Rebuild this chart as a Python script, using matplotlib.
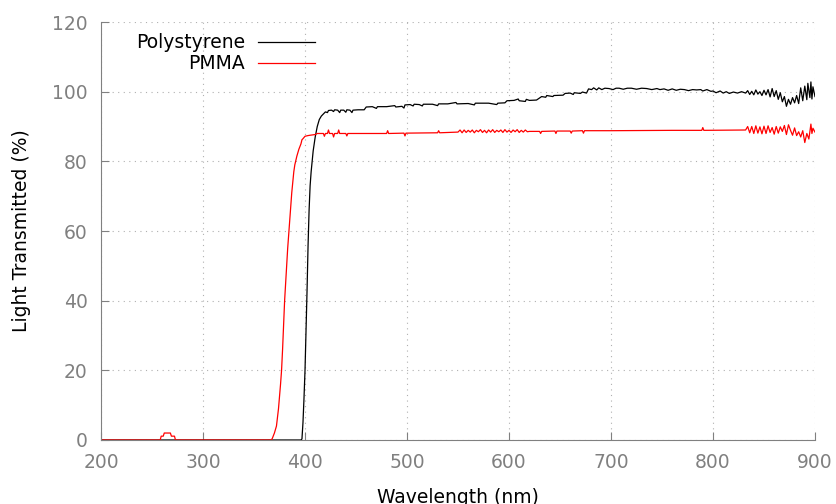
import matplotlib
matplotlib.use("Agg")
import matplotlib.pyplot as plt

# Polystyrene transmission (wavelength nm, % transmitted)
psWave = [200, 390, 396, 397, 398, 399, 400, 401, 402, 403, 404, 405, 406, 407, 408, 409, 410,
          411, 412, 413, 414, 416, 418, 420, 422, 423, 426, 428, 429, 432, 434, 435, 438, 440,
          441, 444, 446, 447, 452, 458, 460, 466, 470, 471, 480, 488, 489, 495, 497, 498, 503,
          506, 507, 512, 515, 516, 525, 530, 531, 540, 548, 549, 560, 566, 567, 580, 588, 589,
          596, 598, 605, 609, 610, 616, 617, 620, 627, 632, 636, 637, 643, 644, 653, 655, 660,
          663, 664, 670, 672, 676, 678, 681, 683, 686, 688, 691, 694, 698, 702, 705, 708, 712,
          716, 720, 725, 730, 735, 740, 745, 748, 752, 756, 760, 764, 768, 772, 776, 780, 784,
          788, 790, 794, 798, 800, 803, 807, 810, 813, 816, 820, 824, 828, 832, 834, 836, 838,
          840, 842, 844, 846, 848, 850, 852, 854, 856, 858, 860, 862, 864, 866, 868, 870, 872,
          874, 876, 878, 880, 882, 884, 886, 888, 890, 892, 893, 895, 896, 897, 898, 900]
psTrans = [0, 0, 0, 0.3, 5, 12, 20, 31, 43, 56, 66, 73, 77, 80, 83, 85, 87,
           88.5, 90, 91, 92, 93, 93.6, 94.2, 94.0, 94.6, 94.7, 94.3, 94.8, 94.7, 94.0, 94.7, 94.7, 94.1,
           94.8, 94.7, 94.0, 94.7, 94.8, 94.8, 95.6, 95.7, 95.2, 95.7, 95.7, 96.0, 95.6, 95.8, 95.3, 96.2, 96.3,
           95.9, 96.4, 96.3, 95.9, 96.4, 96.4, 96.0, 96.5, 96.5, 96.9, 96.5, 96.6, 96.2, 96.7, 96.7, 96.3, 96.7,
           96.8, 97.4, 97.5, 97.9, 97.4, 97.2, 97.8, 97.5, 97.6, 98.6, 98.4, 98.9, 98.6, 98.9, 99.0, 99.5, 99.6,
           99.2, 99.7, 99.5, 99.9, 99.6, 100.8, 100.6, 101.1, 100.5, 101.1, 100.6, 101.0, 100.9, 100.6, 101.0, 101.0, 100.7,
           101.0, 101.0, 100.7, 101.0, 100.9, 100.6, 100.9, 100.6, 100.8, 100.4, 100.8, 100.4, 100.7, 100.6, 100.3, 100.6, 100.5,
           100.6, 100.2, 100.6, 100.1, 100.2, 99.7, 100.2, 99.6, 100.0, 99.5, 99.9, 99.6, 100.0, 99.6, 100.3, 99.2, 100.1,
           99.1, 100.5, 99.3, 100.0, 98.9, 100.4, 99.1, 100.6, 98.5, 100.9, 98.6, 100.3, 97.8, 99.7, 97.1, 98.6, 95.8,
           97.8, 96.4, 98.3, 96.8, 98.9, 96.6, 101.1, 97.4, 101.6, 97.7, 102.4, 98.3, 102.8, 97.9, 101.4, 98.6]

# PMMA transmission
pmmaWave = [200, 258, 259, 261, 262, 268, 269, 272, 273, 367, 368, 370, 372, 374, 376, 377, 378,
            379, 380, 381, 382, 383, 384, 385, 386, 387, 388, 389, 390, 392, 394, 396, 397, 398,
            400, 403, 405, 410, 412, 418, 419, 420, 422, 423, 424, 427, 428, 429, 432, 433, 434,
            440, 441, 442, 480, 481, 482, 497, 498, 499, 530, 531, 532, 550, 552, 554, 556, 558,
            560, 562, 564, 566, 568, 570, 572, 574, 576, 578, 580, 582, 584, 586, 588, 590, 592,
            594, 596, 598, 600, 602, 604, 606, 608, 610, 612, 614, 616, 618, 620, 630, 631, 632,
            645, 646, 647, 660, 661, 662, 672, 673, 674, 700, 760, 789, 790, 791, 832, 834, 836,
            838, 840, 842, 844, 846, 848, 850, 852, 854, 856, 858, 860, 862, 864, 866, 868, 870,
            872, 874, 876, 878, 880, 882, 884, 886, 888, 890, 892, 894, 896, 897, 898, 900]
pmmaTrans = [0, 0, 1.1, 1.1, 2, 2, 1.1, 1.1, 0, 0, 0.5, 2, 4, 9, 16, 20, 26,
             33, 40, 45, 50, 55, 59, 63, 67, 71, 74, 77, 79, 81.5, 83.5, 85, 86.2, 86.5,
             87.2, 87.4, 87.5, 87.7, 88.0, 88.0, 87.2, 88.0, 88.0, 89.0, 88.0, 88.0, 87.0, 88.0, 88.0, 89.0, 88.0,
             88.0, 87.3, 88.0, 88.0, 88.8, 88.0, 88.1, 87.3, 88.1, 88.2, 88.8, 88.2, 88.4, 89.0, 88.2, 89.0, 88.3,
             88.9, 88.4, 89.0, 88.2, 88.9, 88.5, 89.1, 88.3, 88.9, 88.2, 89.0, 88.4, 89.1, 88.3, 88.9, 88.5, 89.0,
             88.3, 89.1, 88.4, 88.9, 88.3, 89.0, 88.5, 89.1, 88.3, 88.9, 88.4, 89.0, 88.5, 88.6, 88.6, 88.0, 88.6,
             88.7, 88.0, 88.7, 88.7, 88.1, 88.7, 88.8, 88.1, 88.8, 88.8, 88.9, 88.9, 89.7, 88.9, 89.0, 90.0, 88.2,
             90.0, 88.0, 90.2, 88.1, 89.9, 87.9, 90.1, 88.0, 90.2, 88.3, 89.7, 87.8, 90.0, 88.1, 89.9, 88.6, 90.3,
             87.7, 90.5, 88.9, 87.5, 89.6, 87.4, 88.5, 87.0, 88.8, 85.4, 88.0, 86.4, 90.7, 88.0, 89.5, 88.4]

xTicks = [200, 300, 400, 500, 600, 700, 800, 900]
yTicks = [0, 20, 40, 60, 80, 100, 120]

grey = "#808080"

fig = plt.figure(figsize=(8.37, 5.04), dpi=100)
ax = fig.add_axes([0.1207, 0.127, 0.853, 0.8293])

ax.plot(psWave, psTrans, color="black", linewidth=0.9, label="Polystyrene")
ax.plot(pmmaWave, pmmaTrans, color="red", linewidth=0.9, label="PMMA")

ax.set_xlim(200, 900)
ax.set_ylim(0, 120)
ax.set_xticks(xTicks)
ax.set_yticks(yTicks)
ax.grid(True, color="#b0b0b0", linestyle=(0, (1, 4)), linewidth=0.8)

for side in ["top", "right"]:
    ax.spines[side].set_visible(False)
for side in ["left", "bottom"]:
    ax.spines[side].set_color(grey)
    ax.spines[side].set_linewidth(0.8)

ax.tick_params(direction="in", length=5.8, width=0.8, color=grey, labelcolor=grey,
               labelsize=13.5, pad=9.5)

ax.set_xlabel("Wavelength (nm)", fontsize=13.5, labelpad=11.5)
ax.set_ylabel("Light Transmitted (%)", fontsize=13.5, labelpad=15)

ax.legend(loc="upper left", bbox_to_anchor=(0.049, 0.973), frameon=False, markerfirst=False,
          fontsize=13.5, handlelength=3.0, handletextpad=0.7, labelspacing=0.1,
          borderpad=0, borderaxespad=0)

fig.savefig("out.png", dpi=100)
